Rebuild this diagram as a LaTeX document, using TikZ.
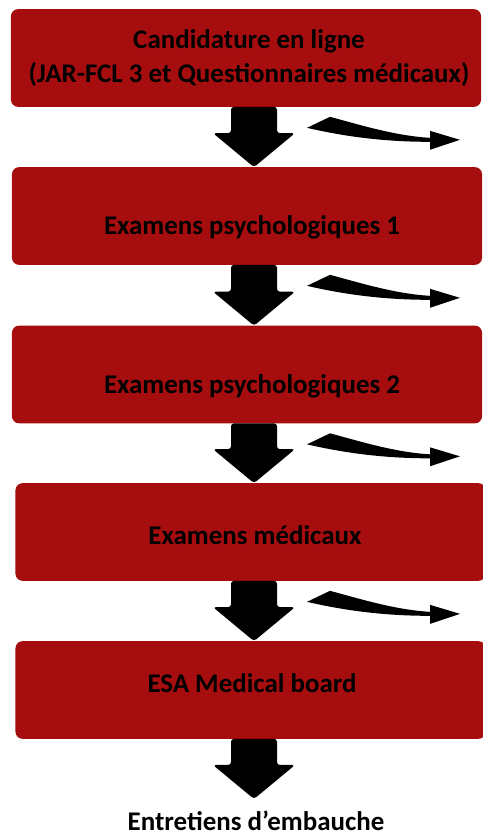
\documentclass[tikz,border=0pt]{standalone}
\usepackage{fontspec}
\setmainfont{Carlito}
\usetikzlibrary{calc}
\definecolor{boxred}{RGB}{166,13,14}
% block arrow from the bottom of one box to the top of the next
\newcommand\bigdown[2]{%
  \path (254,0 |- #1) coordinate (ftop) (254,0 |- #2) coordinate (ftip);
  \fill[rounded corners=2.5pt] ($(ftop)+(-23,0)$) -- ($(ftip)+(-23,34)$)
    -- ($(ftip)+(-41,34)$) -- (ftip) -- ($(ftip)+(41,34)$)
    -- ($(ftip)+(23,34)$) -- ($(ftop)+(23,0)$) -- cycle;}
% tapered curved arrow going off to the right
\newcommand\sidearrow[1]{%
  \fill[shift={(0,0 |- #1)}] (330,-10) .. controls (360,-18) and (395,-29) .. (430,-31)
    -- (430,-24) -- (460,-33) -- (430,-43) -- (430,-35)
    .. controls (390,-35) and (350,-31) .. (307,-21) -- cycle;}

\begin{document}
\begin{tikzpicture}
[x=0.03cm,y=0.03cm
,box/.style={rectangle,rounded corners=6pt,fill=boxred,minimum width=14.1cm,minimum height=2.93cm,inner sep=0pt,outer sep=0pt}
,lbl/.style={font=\fontsize{23}{29.75}\selectfont\bfseries,align=center,anchor=base}
]
\useasboundingbox (0,0) rectangle (483,836);
\node[box] (b1) at (246,778) {};
\node[box] (b2) at (247,620) {};
\node[box] (b3) at (247,461.5) {};
\node[box] (b4) at (250.5,304) {};
\node[box] (b5) at (250.5,146) {};
\node[lbl] (l1) at (249,753) {Candidature en ligne\\(JAR-FCL 3 et Questionnaires médicaux)};
\node[lbl] (l2) at (252,601) {Examens psychologiques 1};
\node[lbl] (l3) at (252,442) {Examens psychologiques 2};
\node[lbl] (l4) at (255,291) {Examens médicaux};
\node[lbl] (l5) at (252,143) {ESA Medical board};
\node[lbl] (fin) at (256,6) {Entretiens d’embauche};
\coordinate (endtip) at (254,37);
\bigdown{b1.south}{b2.north}
\bigdown{b2.south}{b3.north}
\bigdown{b3.south}{b4.north}
\bigdown{b4.south}{b5.north}
\bigdown{b5.south}{endtip}
\sidearrow{b1.south}
\sidearrow{b2.south}
\sidearrow{b3.south}
\sidearrow{b4.south}
\end{tikzpicture}
\end{document}
